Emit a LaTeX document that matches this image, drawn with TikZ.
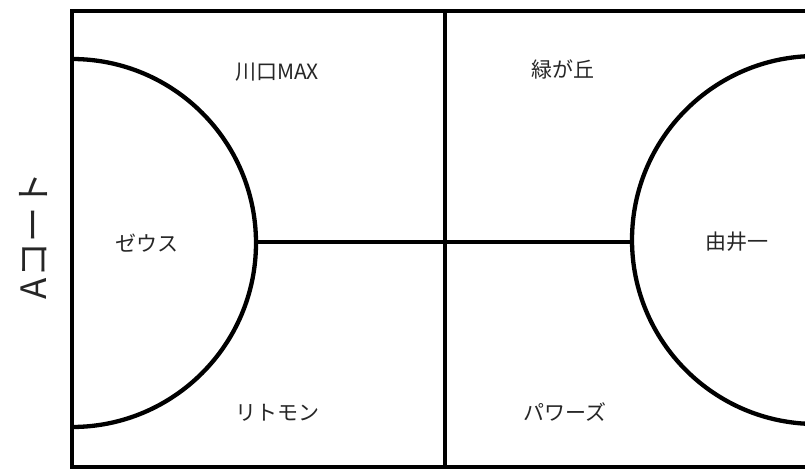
\documentclass[tikz,border=0pt]{standalone}
\usepackage{fontspec}
\setmainfont{Noto Sans CJK JP}
\begin{document}
\begin{tikzpicture}[x=1pt,y=-1pt,
  court/.style={line width=4.3pt,black},
  lbl/.style={font=\fontsize{21}{24}\selectfont,text=black!85,inner sep=0pt}]
\useasboundingbox (0,0) rectangle (805,470);
\begin{scope}
\clip (0,0) rectangle (805,470);
% outer boundary (right edge beyond picture)
\draw[court] (830,11) -- (72,11) -- (72,467) -- (830,467);
% center line
\draw[court] (445,11) -- (445,467);
% left semicircle
\draw[court] (72,59) arc[start angle=-90,end angle=90,radius=184];
% right circle
\draw[court] (816,240) circle[radius=184];
\end{scope}
\coordinate (L) at (256,242);
\coordinate (R) at (632,242);
\draw[court] (L) -- (R);
\node[lbl] (kawa) at (277,72) {川口MAX};
\node[lbl] (mido) at (563,69) {緑が丘};
\node[lbl] (zeus) at (147,243) {ゼウス};
\node[lbl] (yui) at (737,242) {由井一};
\node[lbl] (rito) at (277,413) {リトモン};
\node[lbl] (pow) at (565,412) {パワーズ};
\node[font=\fontsize{35}{38}\selectfont,rotate=90,inner sep=0pt,text=black!85] (acourt) at (33,236) {Aコート};
\end{tikzpicture}
\end{document}
